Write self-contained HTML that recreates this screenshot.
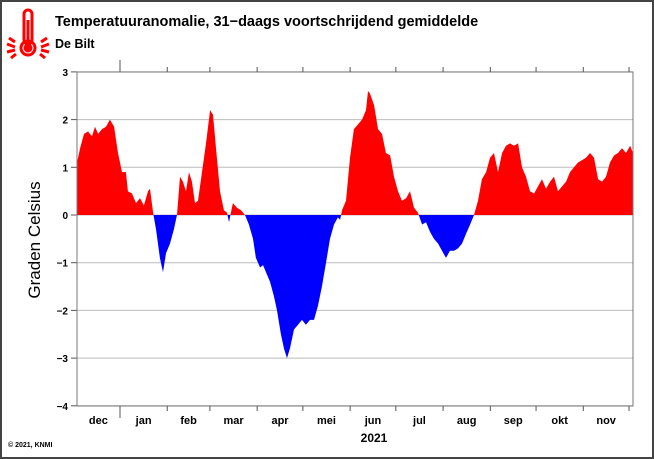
<!DOCTYPE html>
<html><head><meta charset="utf-8"><style>
body{margin:0;background:#fff}
svg{display:block;font-family:"Liberation Sans",sans-serif}
</style></head><body>
<svg width="654" height="459" viewBox="0 0 654 459">
<rect x="1" y="1" width="652" height="457" fill="#fff" stroke="#444" stroke-width="2"/>
<g stroke="#f00" fill="none" stroke-width="3">
<rect x="24" y="10" width="8" height="34" rx="4"/>
<circle cx="28" cy="48" r="7"/>
<circle cx="28" cy="48" r="3" fill="#f00"/>
<line x1="28" y1="20" x2="28" y2="44"/>
<line x1="7" y1="44" x2="15" y2="47"/><line x1="7" y1="52" x2="15" y2="50"/>
<line x1="41" y1="47" x2="49" y2="44"/><line x1="41" y1="50" x2="49" y2="52"/>
<line x1="9" y1="38" x2="15" y2="42"/><line x1="47" y1="38" x2="41" y2="42"/>
<line x1="11" y1="58" x2="16" y2="54"/><line x1="45" y1="58" x2="40" y2="54"/>
</g>
<text x="55" y="26" font-size="14.5" font-weight="bold">Temperatuuranomalie, 31−daags voortschrijdend gemiddelde</text>
<text x="55" y="48" font-size="12.5" font-weight="bold">De Bilt</text>
<text transform="translate(40,240) rotate(-90)" font-size="17" text-anchor="middle">Graden Celsius</text>
<text x="374" y="442" font-size="12" font-weight="bold" text-anchor="middle">2021</text>
<text x="8" y="447" font-size="7" font-weight="bold">© 2021, KNMI</text>
<defs>
<clipPath id="above"><rect id="ca" x="0" y="0" width="654" height="0"/></clipPath>
<clipPath id="below"><rect id="cb" x="0" y="0" width="654" height="0"/></clipPath>
</defs>
<g id="grid"></g>
<g id="areas"></g>
<g id="axes"></g>
</svg>
<script>
const yTicks=[3,2,1,0,-1,-2,-3,-4];
const months=["dec","jan","feb","mar","apr","mei","jun","jul","aug","sep","okt","nov"];
const monthStartDays=[0,31,62,90,121,151,182,212,243,274,304,335,365];
const days=[2.8,4.8,7.4,10.0,12.6,14.6,16.6,19.2,21.8,24.4,
27.1,29.7,32.3,34.9,36.2,38.9,41.5,44.1,46.7,49.4,
50.7,52.7,54.6,57.2,59.2,61.2,63.8,66.4,68.4,70.4,
72.3,74.3,76.3,78.2,80.2,82.2,84.8,87.4,90.1,92.0,
94.0,96.6,99.2,101.2,102.5,103.8,105.1,107.8,110.4,113.0,
115.6,118.3,120.2,122.9,124.8,126.8,129.4,132.0,134.0,136.6,
138.6,140.6,142.5,145.2,147.8,150.4,153.0,155.7,158.3,160.9,
163.5,166.2,168.8,171.4,174.0,175.4,176.7,179.3,181.9,184.5,
187.2,189.8,192.4,193.7,195.0,197.7,200.3,202.9,205.5,208.2,
210.8,213.4,216.0,218.7,221.3,223.9,226.5,229.2,231.8,234.4,
237.0,239.7,242.3,244.9,247.5,250.2,252.8,255.4,258.0,260.7,
263.3,265.9,268.5,271.2,273.8,276.4,279.0,281.7,284.3,286.9,
289.5,292.2,294.8,297.4,300.0,302.7,305.3,307.9,310.5,313.2,
315.8,318.4,321.0,323.7,326.3,328.9,331.5,334.2,336.8,339.4,
342.0,344.7,347.3,349.9,352.5,355.2,357.8,360.4,363.0,365.7,367.6];
const values=[1.1,1.4,1.7,1.75,1.65,1.85,1.7,1.8,1.85,2.0,
1.85,1.3,0.9,0.9,0.5,0.45,0.25,0.35,0.2,0.5,
0.55,0.05,-0.3,-0.9,-1.2,-0.8,-0.6,-0.3,0.0,0.8,
0.7,0.5,0.9,0.7,0.25,0.3,0.9,1.5,2.2,2.1,
1.4,0.5,0.1,0.05,-0.15,0.05,0.25,0.15,0.1,0.0,
-0.2,-0.5,-0.9,-1.1,-1.05,-1.2,-1.4,-1.7,-2.0,-2.5,
-2.8,-3.0,-2.8,-2.4,-2.3,-2.2,-2.3,-2.2,-2.2,-1.9,
-1.5,-1.0,-0.5,-0.2,-0.05,-0.1,0.1,0.3,1.2,1.8,
1.9,2.0,2.2,2.6,2.55,2.3,1.8,1.7,1.3,1.25,
0.8,0.5,0.3,0.35,0.5,0.15,0.05,-0.2,-0.15,-0.35,
-0.5,-0.6,-0.75,-0.9,-0.75,-0.75,-0.7,-0.6,-0.4,-0.2,
0.0,0.3,0.75,0.9,1.2,1.3,0.9,1.3,1.45,1.5,
1.45,1.5,1.0,0.8,0.5,0.45,0.6,0.75,0.55,0.7,
0.8,0.5,0.6,0.7,0.9,1.0,1.1,1.15,1.2,1.3,
1.2,0.75,0.7,0.8,1.1,1.25,1.3,1.4,1.3,1.45,1.3];
const L=77,R=633,T=72,B=406;
const x=d=>120+(d-31)*1.524;
const y=v=>215-v*47.7;
const NS="http://www.w3.org/2000/svg";
function mk(t,a,p){const e=document.createElementNS(NS,t);for(const k in a)e.setAttribute(k,a[k]);p.appendChild(e);return e;}
const grid=document.getElementById('grid'),axes=document.getElementById('axes'),areas=document.getElementById('areas');
yTicks.forEach(v=>{
 const g=mk('line',{x1:L,x2:R,y1:y(v),y2:y(v),stroke:'#bbb','stroke-width':1},grid);
 
 
 const t=mk('line',{x1:L-6,x2:L,y1:y(v),y2:y(v),stroke:'#555'},axes);
 
 
 const l=mk('text',{x:L-9,y:y(v)+4,'font-size':10,'font-weight':'bold','text-anchor':'end'},axes);
 l.textContent=(v<0?'−':'')+Math.abs(v);
 
 
});
const n=Math.min(days.length,values.length);
let d='M'+x(days[0]).toFixed(1)+','+y(0);
for(let i=0;i<n;i++){d+=' L'+x(days[i]).toFixed(1)+','+y(values[i]).toFixed(1);}
d+=' L'+x(days[n-1]).toFixed(1)+','+y(0)+' Z';
document.getElementById('ca').setAttribute('height',y(0));
const cb=document.getElementById('cb');cb.setAttribute('y',y(0));cb.setAttribute('height',459-y(0));
const pa=mk('path',{d:d,fill:'#f00','clip-path':'url(#above)'},areas);


const pb=mk('path',{d:d,fill:'#00f','clip-path':'url(#below)'},areas);


const fr=mk('rect',{x:L,y:T,width:R-L,height:B-T,fill:'none',stroke:'#777'},axes);


monthStartDays.forEach((md,i)=>{
 const xx=x(md);if(xx<L-1||xx>R+1)return;
 const big=md===31;
 const t1=mk('line',{x1:xx,x2:xx,y1:B,y2:B+(big?12:5),stroke:'#555'},axes);
 
 
 const t2=mk('line',{x1:xx,x2:xx,y1:T,y2:T-(big?12:5),stroke:'#555'},axes);
 
 
});
months.forEach((m,i)=>{
 const t=mk('text',{x:x((monthStartDays[i]+monthStartDays[i+1])/2)+(i===0?2:0),y:424,'font-size':11,'font-weight':'bold','text-anchor':'middle'},axes);
 t.textContent=m;
 
 
});
</script>
</body></html>
